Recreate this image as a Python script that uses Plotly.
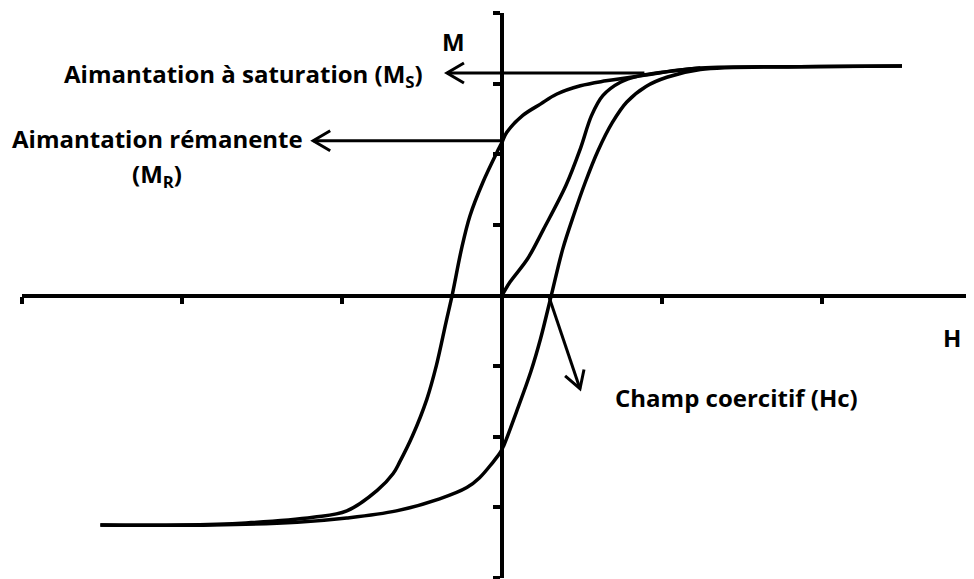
import math
import plotly.graph_objects as go

# Cycle d'hystérésis (unités arbitraires)
h_desc = [2.50, 1.86, 1.24, 0.86, 0.65, 0.49, 0.34, 0.24, 0.13, 0.03, 0.00, -0.02,
          -0.12, -0.20, -0.253, -0.31, -0.35, -0.41, -0.47, -0.56, -0.64, -0.68,
          -0.78, -0.97, -1.18, -1.60, -2.01, -2.51]
m_desc = [3.25, 3.24, 3.22, 3.11, 3.04, 2.97, 2.85, 2.71, 2.55, 2.31, 2.17, 2.08,
          1.60, 1.13, 0.66, 0.02, -0.38, -0.99, -1.47, -1.99, -2.36, -2.52,
          -2.76, -3.05, -3.14, -3.22, -3.25, -3.25]

h_asc = [-2.51, -1.81, -1.28, -0.97, -0.66, -0.39, -0.22, -0.14, -0.06, -0.01, 0.01,
         0.09, 0.18, 0.24, 0.31, 0.38, 0.45, 0.52, 0.60, 0.69, 0.78, 0.90, 1.03,
         1.24, 1.86, 2.50]
m_asc = [-3.25, -3.25, -3.21, -3.15, -3.05, -2.88, -2.72, -2.58, -2.37, -2.22, -2.13,
         -1.65, -1.08, -0.62, 0.02, 0.66, 1.15, 1.60, 2.05, 2.45, 2.74, 2.96, 3.09,
         3.20, 3.24, 3.25]

# courbe de première aimantation
h_init = [0.00, 0.05, 0.16, 0.26, 0.40, 0.49, 0.56, 0.63, 0.74, 0.86, 1.03, 1.24]
m_init = [0.00, 0.19, 0.52, 0.94, 1.56, 2.08, 2.55, 2.83, 3.02, 3.11, 3.17, 3.22]

x_ticks = [-3, -2, -1, 0, 1, 2]
y_ticks = [-4, -3, -2, -1, 0, 1, 2, 3, 4]

# la page html ajoute 8 px de marge au body : on compense ici
W, H = 974, 579
M_L, M_R, M_T, M_B = 14, 0, 5, 9
X_RANGE = [-3, 3]
Y_RANGE = [-4, 4]
px_x = (W - M_L - M_R) / (X_RANGE[1] - X_RANGE[0])
px_y = (H - M_T - M_B) / (Y_RANGE[1] - Y_RANGE[0])

FONT = "'Open Sans', sans-serif"
LW = 3.5

fig = go.Figure()

for hx, my in [(h_desc, m_desc), (h_asc, m_asc), (h_init, m_init)]:
    fig.add_trace(go.Scatter(
        x=hx, y=my, mode="lines",
        line=dict(color="black", width=LW, shape="spline", smoothing=1.0),
        hoverinfo="skip", showlegend=False,
    ))


def add_arrow(tail, tip, back=17, side=10):
    """Flèche avec pointe ouverte (chevron) en pixels au bout."""
    fig.add_shape(type="line", xref="x", yref="y",
                  x0=tail[0], y0=tail[1], x1=tip[0], y1=tip[1],
                  line=dict(color="black", width=3))
    dx = (tip[0] - tail[0]) * px_x
    dy = (tip[1] - tail[1]) * px_y
    n = math.hypot(dx, dy)
    ux, uy = dx / n, dy / n
    px_, py_ = -uy, ux
    a = (-back * ux + side * px_, -back * uy + side * py_)
    b = (-back * ux - side * px_, -back * uy - side * py_)
    fig.add_shape(type="path", xref="x", yref="y",
                  xsizemode="pixel", ysizemode="pixel",
                  xanchor=tip[0], yanchor=tip[1],
                  path=f"M {a[0]:.1f},{a[1]:.1f} L 0,0 L {b[0]:.1f},{b[1]:.1f}",
                  line=dict(color="black", width=3))


add_arrow((0.89, 3.15), (-0.344, 3.15))
add_arrow((0.0, 2.19), (-1.18, 2.19))
add_arrow((0.294, -0.02), (0.4875, -1.32))

labels = [
    dict(text="<b>M</b>", x=-0.306, y=3.60, xanchor="center"),
    dict(text="<b>Aimantation à saturation (M<sub>S</sub>)</b>", x=-0.48, y=3.12, xanchor="right"),
    dict(text="<b>Aimantation rémanente</b>", x=-2.156, y=2.22, xanchor="center"),
    dict(text="<b>(M<sub>R</sub>)</b>", x=-2.156, y=1.70, xanchor="center"),
    dict(text="<b>H</b>", x=2.81, y=-0.59, xanchor="center"),
    dict(text="<b>Champ coercitif (Hc)</b>", x=0.694, y=-1.44, xanchor="left"),
]
for lab in labels:
    fig.add_annotation(xref="x", yref="y", showarrow=False, yanchor="middle",
                       font=dict(family=FONT, size=24, color="black"), **lab)

axis_common = dict(showgrid=False, zeroline=False, showline=True, linecolor="black",
                   linewidth=LW, ticks="outside", ticklen=7, tickwidth=LW,
                   tickcolor="black", showticklabels=False, anchor="free")

fig.update_xaxes(range=X_RANGE, tickvals=x_ticks, position=0.5, **axis_common)
fig.update_yaxes(range=Y_RANGE, tickvals=y_ticks,
                 position=(0 - X_RANGE[0]) / (X_RANGE[1] - X_RANGE[0]), **axis_common)

fig.update_layout(
    width=W, height=H,
    margin=dict(l=M_L, r=M_R, t=M_T, b=M_B),
    paper_bgcolor="white", plot_bgcolor="white",
    showlegend=False,
)

fig.write_html("out.html")
